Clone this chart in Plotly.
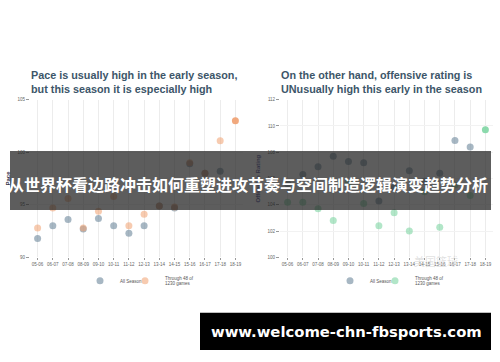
import plotly.graph_objects as go

seasons = ["05-06", "06-07", "07-08", "08-09", "09-10", "10-11", "11-12",
           "12-13", "13-14", "14-15", "15-16", "16-17", "17-18", "18-19"]

# Pace
pace_all = [91.8, 93.0, 93.6, 92.7, 93.7, 93.0, 92.3, 93.0, 94.9, 94.7, 98.9, 98.0, 98.2, None]
pace_48 = [92.8, 94.7, 95.6, 92.8, 94.4, 95.8, 93.0, 94.1, 94.9, 94.8, 99.0, 98.0, 101.1, 103.0]

# Offensive rating
ortg_all = [105.6, 106.3, 106.9, 107.7, 107.3, 107.2, 104.3, 105.3, 106.6, 105.8, 106.4, 108.9, 108.4, None]
ortg_48 = [104.2, 104.2, 103.7, 102.8, 105.7, 104.1, 102.4, 103.4, 102.0, 105.0, 102.3, 105.5, 104.7, 109.7]

left_title = "Pace is usually high in the early season,<br>but this season it is especially high"
right_title = "On the other hand, offensive rating is<br>UNusually high this early in the season"
banner_text = "从世界杯看边路冲击如何重塑进攻节奏与空间制造逻辑演变趋势分析"
url_text = "www.welcome-chn-fbsports.com"
legend_names = ["All Season", "Through 48 of<br>1230 games"]

W, H = 500, 362
def px(x):
    return x / W
def py(y):
    return 1 - y / H

GRAY = "rgba(120,144,163,0.65)"
ORANGE_L = "rgba(240,160,112,0.55)"
ORANGE_D = "rgba(240,160,112,0.9)"
GREEN_L = "rgba(127,214,164,0.6)"
GREEN_D = "rgba(127,214,164,0.9)"

fig = go.Figure()

fig.add_trace(go.Scatter(x=seasons, y=pace_all, mode="markers", name=legend_names[0],
                         marker=dict(size=7, color=GRAY), xaxis="x", yaxis="y",
                         legend="legend", showlegend=True))
fig.add_trace(go.Scatter(x=seasons, y=pace_48, mode="markers", name=legend_names[1],
                         marker=dict(size=7, color=[ORANGE_L] * 13 + [ORANGE_D]),
                         xaxis="x", yaxis="y", legend="legend2", showlegend=True))
fig.add_trace(go.Scatter(x=seasons, y=ortg_all, mode="markers", name=legend_names[0],
                         marker=dict(size=7, color=GRAY), xaxis="x2", yaxis="y2",
                         legend="legend3", showlegend=True))
fig.add_trace(go.Scatter(x=seasons, y=ortg_48, mode="markers", name=legend_names[1],
                         marker=dict(size=7, color=[GREEN_L] * 13 + [GREEN_D]),
                         xaxis="x2", yaxis="y2", legend="legend4", showlegend=True))

tickfont = dict(size=4.5, color="#666", family="Liberation Sans")
xcommon = dict(type="category", categoryorder="array", categoryarray=seasons,
               range=[-0.5, 13.5], showgrid=True, gridcolor="#ececec", gridwidth=1,
               ticks="outside", ticklen=2, tickcolor="#999", tickfont=tickfont,
               showline=False, zeroline=False, fixedrange=True)
ycommon = dict(showgrid=True, gridcolor="#f2f2f2", ticks="outside", ticklen=3,
               tickcolor="#999", tickfont=tickfont, showline=False, zeroline=False,
               fixedrange=True)

ydom = [py(259), py(99)]
legfont = dict(size=4.5, color="#555")

def leg(xpix):
    return dict(orientation="h", x=px(xpix), y=py(268), xanchor="left", yanchor="top",
                font=legfont, itemsizing="trace", bgcolor="rgba(0,0,0,0)")

fig.update_layout(
    width=W, height=H, margin=dict(l=0, r=0, t=0, b=0),
    paper_bgcolor="white", plot_bgcolor="white",
    font=dict(family="Liberation Sans"),
    showlegend=True,
    xaxis=dict(domain=[px(30), px(243)], anchor="y", **xcommon),
    yaxis=dict(domain=ydom, anchor="x", range=[90, 105], tickvals=[90, 95, 100, 105],
               title=dict(text="<b>Pace</b>", font=dict(size=6, color="#334"), standoff=6),
               **ycommon),
    xaxis2=dict(domain=[px(280), px(493)], anchor="y2", **xcommon),
    yaxis2=dict(domain=ydom, anchor="x2", range=[100, 112], tickvals=[100, 102, 104, 106, 108, 110, 112],
                title=dict(text="<b>Offensive Rating</b>", font=dict(size=6, color="#334"), standoff=6),
                **ycommon),
    legend=leg(80), legend2=leg(125), legend3=leg(330), legend4=leg(375),
)

annotations = [
    dict(text="<b>" + left_title + "</b>", x=px(29), y=py(81), xref="paper", yref="paper",
         xanchor="left", yanchor="middle", align="left", showarrow=False,
         font=dict(size=10.8, color="#3d5669", family="Liberation Sans")),
    dict(text="<b>" + right_title + "</b>", x=px(279), y=py(81), xref="paper", yref="paper",
         xanchor="left", yanchor="middle", align="left", showarrow=False,
         font=dict(size=10.8, color="#3d5669", family="Liberation Sans")),
    dict(text="美国篮球", x=px(460), y=py(273), xref="paper", yref="paper",
         showarrow=False, font=dict(size=11, color="rgba(200,200,200,0.55)", family="Noto Sans CJK SC")),
    dict(text="<b>" + banner_text + "</b>", x=px(247.5), y=py(185), xref="paper", yref="paper",
         showarrow=False, font=dict(size=16, color="white", family="Noto Sans CJK SC")),
    dict(text="<b>" + url_text + "</b>", x=px(209), y=py(334), xref="paper", yref="paper",
         xanchor="left", yanchor="middle",
         showarrow=False, font=dict(size=14.8, color="white", family="DejaVu Sans")),
]
fig.update_layout(annotations=annotations)

fig.update_layout(shapes=[
    dict(type="rect", xref="paper", yref="paper", x0=px(10), x1=px(491), y0=py(211), y1=py(151),
         fillcolor="rgba(30,30,30,0.72)", line=dict(width=0), layer="above"),
    dict(type="rect", xref="paper", yref="paper", x0=px(200), x1=px(491), y0=py(353), y1=py(315),
         fillcolor="black", line=dict(width=0), layer="above"),
])

fig.write_html("out.html")
